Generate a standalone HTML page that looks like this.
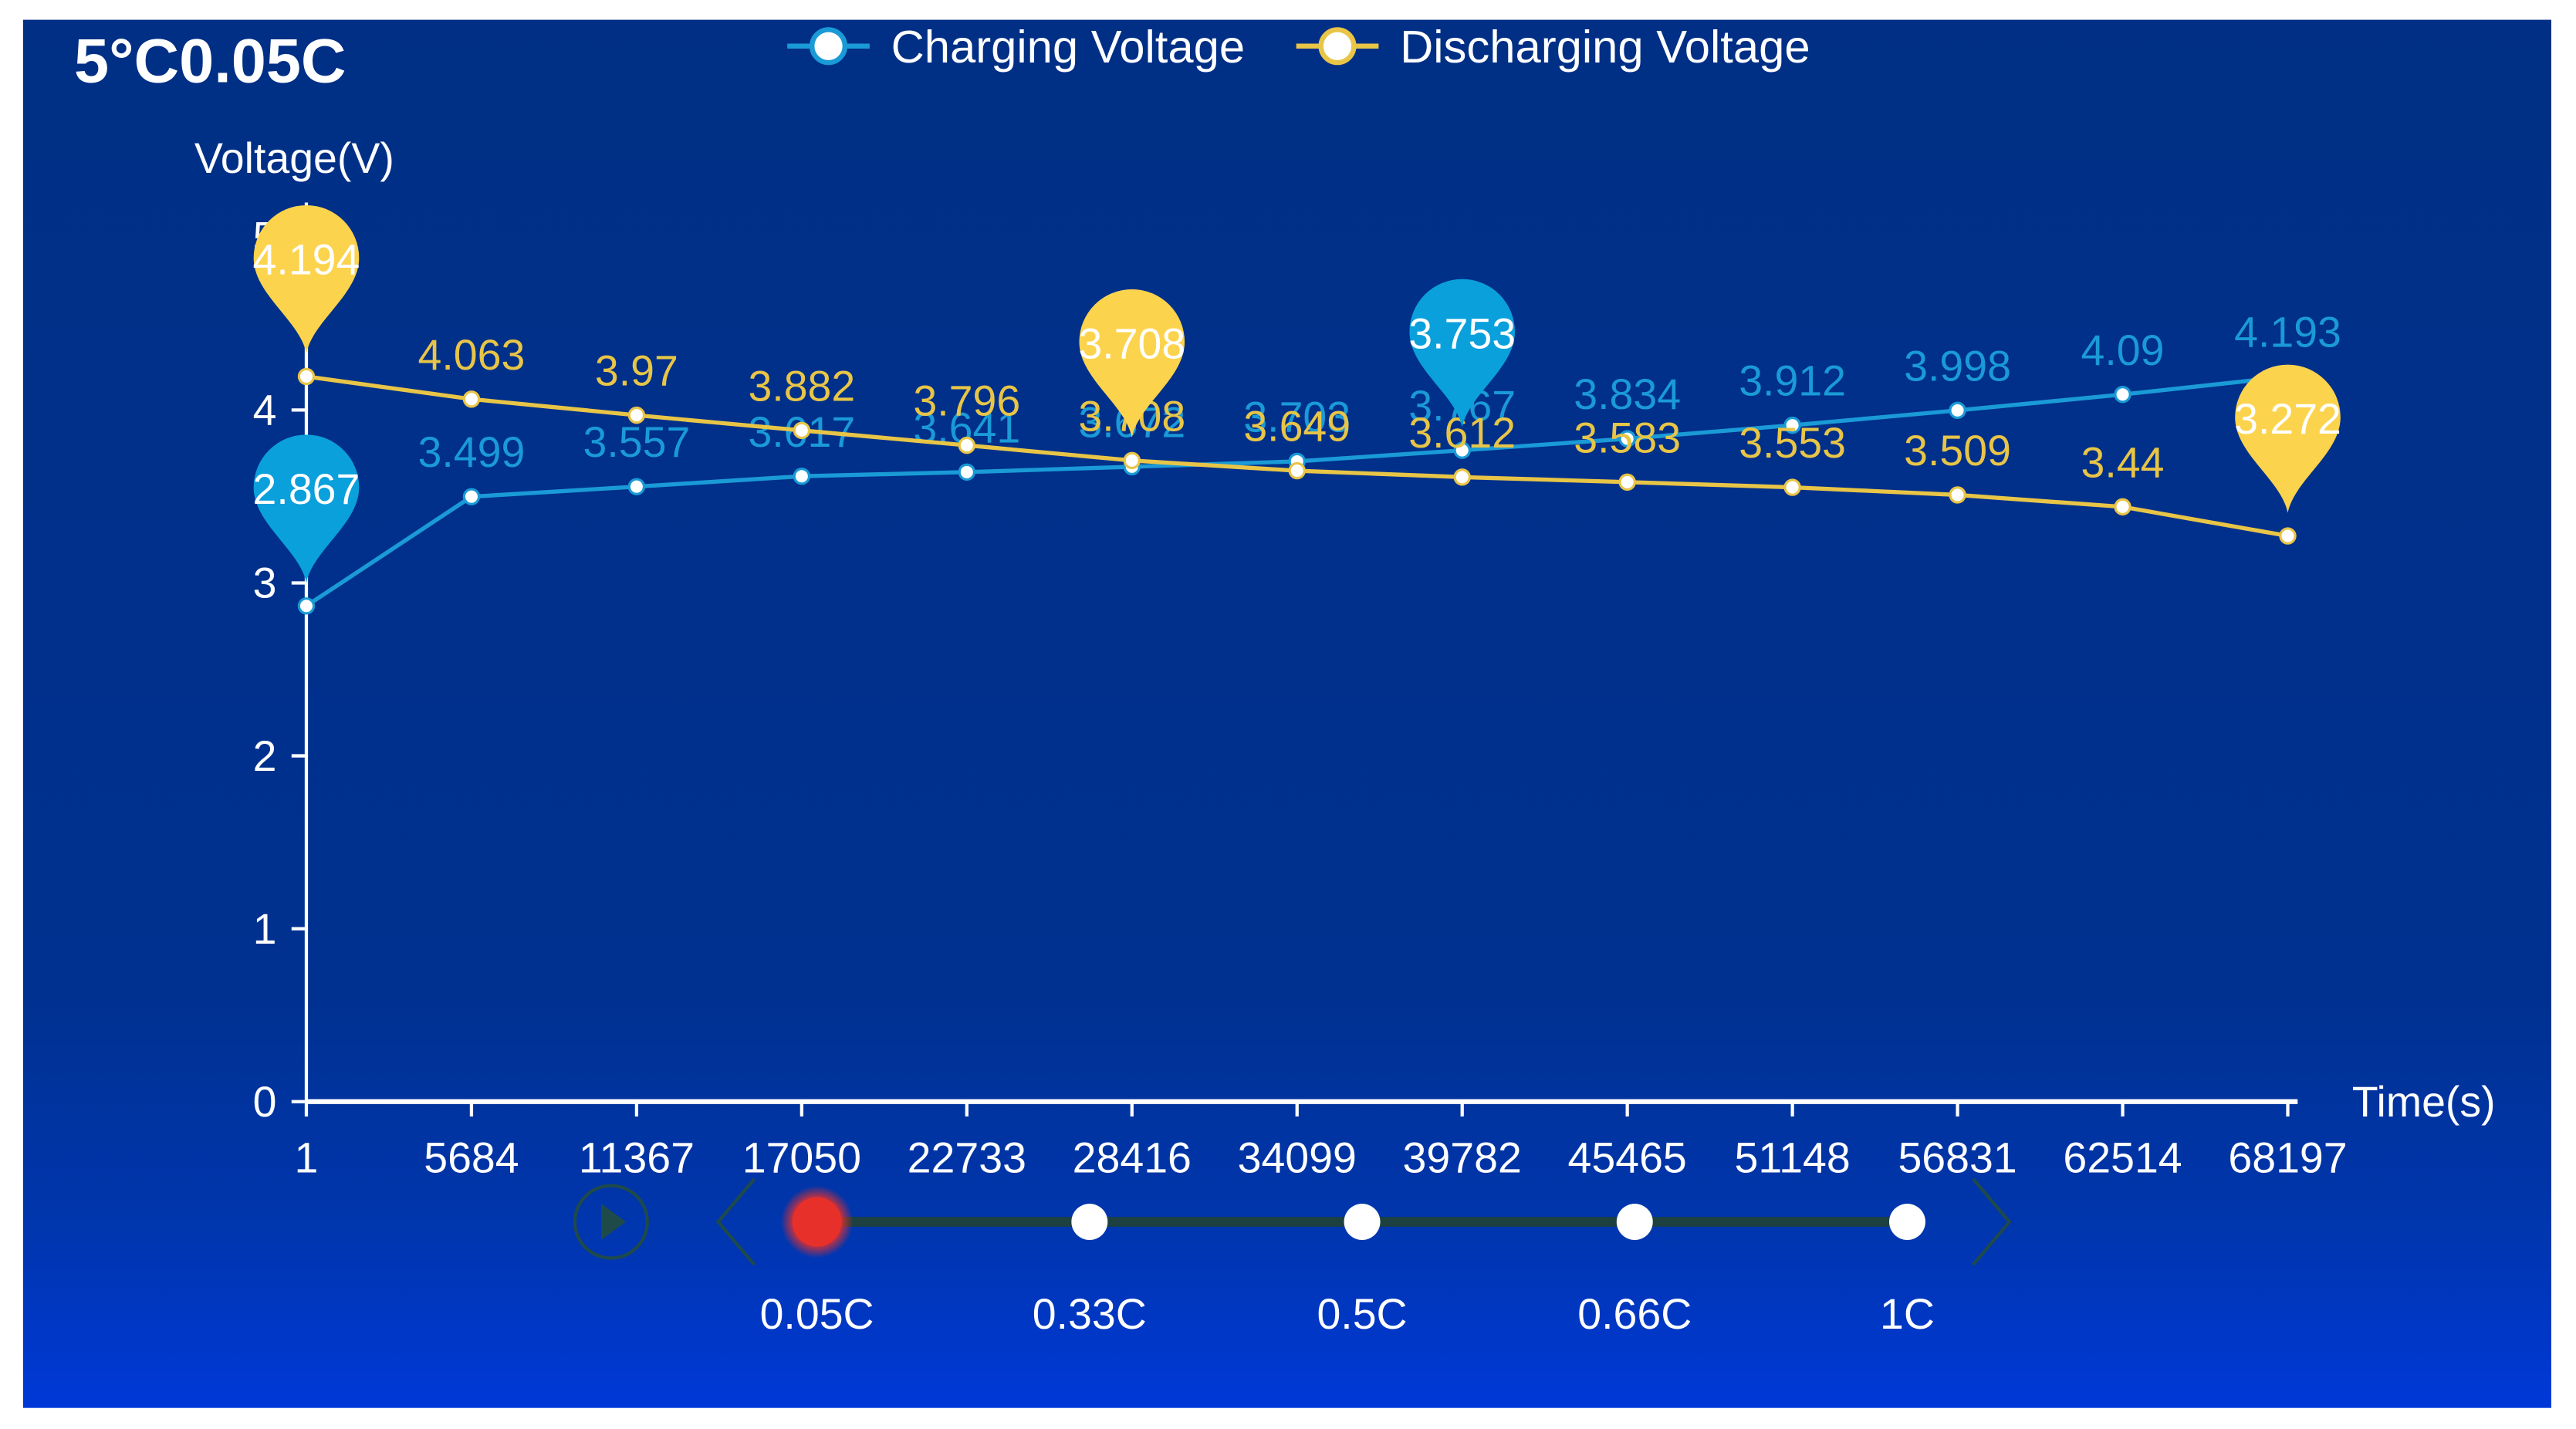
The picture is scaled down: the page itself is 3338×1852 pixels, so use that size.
<!DOCTYPE html>
<html><head><meta charset="utf-8"><style>
html,body{margin:0;padding:0;background:#fff;}
svg{display:block;font-family:"Liberation Sans",sans-serif;}
</style></head><body>
<svg id="chart" width="3338" height="1852" viewBox="0 0 1564 867.8" preserveAspectRatio="none" xmlns="http://www.w3.org/2000/svg">
<defs>
<linearGradient id="bg" x1="0" y1="0" x2="0" y2="1">
<stop offset="0" stop-color="#002f85"/><stop offset="0.7" stop-color="#003190"/><stop offset="0.88" stop-color="#0036b0"/><stop offset="1" stop-color="#0038d8"/>
</linearGradient>
<radialGradient id="redglow"><stop offset="0.6" stop-color="#e8302a"/><stop offset="1" stop-color="#e8302a" stop-opacity="0"/></radialGradient>
</defs>
<rect x="14" y="12" width="1535" height="843" fill="url(#bg)"/>
<text x="45" y="50" fill="#fff" font-size="38" font-weight="bold">5°C0.05C</text>
<g>
<g>
<line x1="478" y1="28" x2="528" y2="28" stroke="#1a9ad6" stroke-width="3"/>
<circle cx="503" cy="28" r="10" fill="#fff" stroke="#1a9ad6" stroke-width="3"/>
<text x="541" y="38" fill="#fff" font-size="28">Charging Voltage</text>
</g>
<g>
<line x1="787" y1="28" x2="837" y2="28" stroke="#e8c547" stroke-width="3"/>
<circle cx="812" cy="28" r="10" fill="#fff" stroke="#e8c547" stroke-width="3"/>
<text x="850" y="38" fill="#fff" font-size="28">Discharging Voltage</text>
</g>
</g>
<text x="118" y="105" fill="#fff" font-size="26">Voltage(V)</text>
<text x="1428" y="678" fill="#fff" font-size="26">Time(s)</text>
<g id="axes"></g>
<g id="series"></g>
<g id="pins"></g>
<g id="timeline">
<circle cx="371" cy="742" r="22" fill="none" stroke="#1f4a4a" stroke-width="2"/>
<path d="M365 731 L380 742 L365 753 Z" fill="#1f4a4a"/>
<path d="M458 716 L436 742 L458 768" fill="none" stroke="#1f4a4a" stroke-width="2"/>
<path d="M1198 716 L1220 742 L1198 768" fill="none" stroke="#1f4a4a" stroke-width="2"/>
<line x1="496" y1="742" x2="1158" y2="742" stroke="#1d4040" stroke-width="6"/>
</g>
</svg>
<script>
const categories=["1","5684","11367","17050","22733","28416","34099","39782","45465","51148","56831","62514","68197"];
const chargeValues=[2.867,3.499,3.557,3.617,3.641,3.672,3.703,3.767,3.834,3.912,3.998,4.09,4.193];
const dischargeValues=[4.194,4.063,3.97,3.882,3.796,3.708,3.649,3.612,3.583,3.553,3.509,3.44,3.272];
const yTicks=[0,1,2,3,4,5];
const rates=["0.05C","0.33C","0.5C","0.66C","1C"];
const chargePins=[{i:0,label:"2.867"},{i:7,label:"3.753"}];
const dischargePins=[{i:0,label:"4.194"},{i:5,label:"3.708"},{i:12,label:"3.272"}];

const NS="http://www.w3.org/2000/svg";
const x0=186,x1=1389,yZero=669,yPer=105;
const xs=i=>x0+i*(x1-x0)/(categories.length-1);
const ys=v=>yZero-v*yPer;
function mk(tag,attrs,parent,text){const e=document.createElementNS(NS,tag);for(const k in attrs)e.setAttribute(k,attrs[k]);if(text!==undefined)e.textContent=text;parent.appendChild(e);return e;}
const axes=document.getElementById('axes');
let yl=mk('line',{x1:x0,y1:ys(5.2),x2:x0,y2:yZero,stroke:'#fff','stroke-width':2},axes);


let xl=mk('line',{x1:x0,y1:yZero,x2:x1+6,y2:yZero,stroke:'#fff','stroke-width':3},axes);


yTicks.forEach(t=>{
  mk('line',{x1:x0-9,y1:ys(t),x2:x0,y2:ys(t),stroke:'#fff','stroke-width':2},axes);
  const tx=mk('text',{x:168,y:ys(t)+9,fill:'#fff','font-size':26,'text-anchor':'end'},axes,String(t));
  
  
});
categories.forEach((c,i)=>{
  mk('line',{x1:xs(i),y1:yZero,x2:xs(i),y2:yZero+9,stroke:'#fff','stroke-width':2},axes);
  const tx=mk('text',{x:xs(i),y:712,fill:'#fff','font-size':26,'text-anchor':'middle'},axes,c);
  
  
});
const series=document.getElementById('series');
function smooth(vals){let d='';const p=vals.map((v,i)=>[xs(i),ys(v)]);
  p.forEach((q,i)=>{if(i===0){d+='M'+q[0]+' '+q[1];return;}const a=p[i-1];const dx=(q[0]-a[0])*0.3;d+=` C${a[0]+dx} ${a[1]+(q[1]-a[1])*0.3} ${q[0]-dx} ${q[1]-(q[1]-a[1])*0.3} ${q[0]} ${q[1]}`;});return d;}
function drawSeries(vals,color,name,dy,hidden){
  const g=mk('g',{},series);
  
  
  mk('path',{d:smooth(vals),fill:'none',stroke:color,'stroke-width':2.5},g);
  vals.forEach((v,i)=>{
    const c=mk('circle',{cx:xs(i),cy:ys(v),r:4.5,fill:'#fff',stroke:color,'stroke-width':1.5},g);
    
    
    if(hidden.includes(i))return;
    const t=mk('text',{x:xs(i),y:ys(v)+dy,fill:color,'font-size':26,'text-anchor':'middle'},g,String(v));
    
    
  });
}
drawSeries(chargeValues,'#1a9ad6','charging',-18,[0]);
drawSeries(dischargeValues,'#e8c547','discharging',-18,[0,12]);
const pins=document.getElementById('pins');
function pin(i,v,label,color,name){
  const x=xs(i),tip=ys(v)-14,cy=tip-58,r=32;
  const g=mk('g',{},pins);
  
  
  mk('path',{d:`M${x} ${tip} C${x-4} ${cy+38} ${x-r} ${cy+22} ${x-r} ${cy} A${r} ${r} 0 1 1 ${x+r} ${cy} C${x+r} ${cy+22} ${x+4} ${cy+38} ${x} ${tip} Z`,fill:color},g);
  mk('text',{x:x,y:cy+10,fill:'#fff','font-size':26,'text-anchor':'middle'},g,label);
}
chargePins.forEach(p=>pin(p.i,chargeValues[p.i],p.label,'#0aa0dc','charging-pin'));
dischargePins.forEach(p=>pin(p.i,dischargeValues[p.i],p.label,'#fcd34d','discharging-pin'));
const tl=document.getElementById('timeline');
rates.forEach((r,i)=>{
  const x=496+i*(1158-496)/(rates.length-1);
  let c;
  if(i===0){mk('circle',{cx:x,cy:742,r:22,fill:'url(#redglow)'},tl);c=mk('circle',{cx:x,cy:742,r:15,fill:'#e8302a'},tl);}
  else c=mk('circle',{cx:x,cy:742,r:11,fill:'#fff'},tl);
  
  
  const t=mk('text',{x:x,y:807,fill:'#fff','font-size':26,'text-anchor':'middle'},tl,r);
  
  
});
</script>
</body></html>
